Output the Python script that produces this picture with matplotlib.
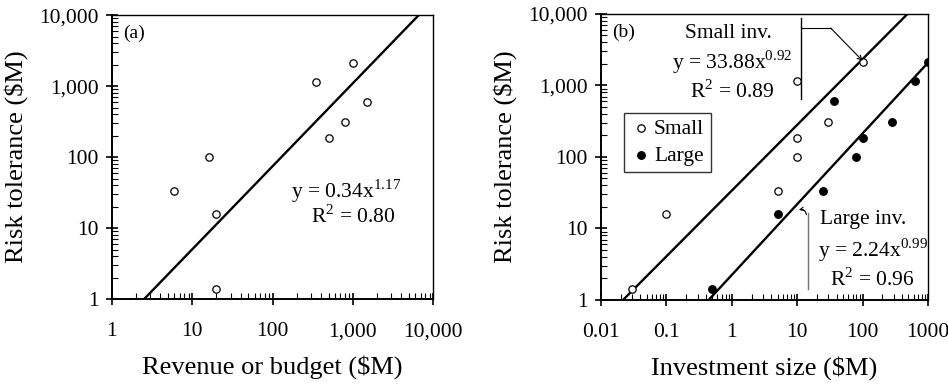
import numpy as np
import matplotlib.pyplot as plt
from matplotlib.ticker import FixedLocator, LogLocator, NullFormatter

plt.rcParams['font.family'] = ['Liberation Serif', 'DejaVu Serif']
plt.rcParams['mathtext.fontset'] = 'custom'
plt.rcParams['mathtext.rm'] = 'Liberation Serif'

# (a) revenue or budget vs risk tolerance
rev_x = [6, 16, 20, 20, 350, 500, 800, 1000, 1500]
rev_y = [33, 100, 16, 1.4, 1150, 185, 310, 2100, 600]
fit_a = (0.34, 1.17)

# (b) investment size vs risk tolerance
small_x = [0.03, 0.1, 5, 10, 10, 10, 30, 100]
small_y = [1.4, 16, 33, 100, 185, 1150, 310, 2100]
large_x = [0.5, 5, 25, 80, 100, 37, 280, 620, 1000]
large_y = [1.4, 16, 33, 100, 185, 600, 310, 1150, 2100]
fit_small = (33.88, 0.92)
fit_large = (2.24, 0.99)

fig = plt.figure(figsize=(9.48, 3.88), dpi=100)
ax1 = fig.add_axes([0.118, 0.229, 0.339, 0.732])
ax2 = fig.add_axes([0.634, 0.227, 0.345, 0.737])


def style(ax, xlim, xticks, xlabels):
    ax.set_xscale('log')
    ax.set_yscale('log')
    ax.set_xlim(*xlim)
    ax.set_ylim(1, 10000)
    ax.xaxis.set_major_locator(FixedLocator(xticks))
    ax.set_xticklabels(xlabels)
    ax.set_yticks([1, 10, 100, 1000, 10000])
    ax.set_yticklabels(['1', '10', '100', '1,000', '10,000'])
    ax.xaxis.set_minor_locator(LogLocator(base=10, subs=np.arange(2, 10), numticks=20))
    ax.yaxis.set_minor_locator(LogLocator(base=10, subs=np.arange(2, 10), numticks=20))
    ax.xaxis.set_minor_formatter(NullFormatter())
    ax.yaxis.set_minor_formatter(NullFormatter())
    ax.tick_params(which='major', direction='inout', length=9, width=1.2,
                   labelsize=15.5)
    ax.tick_params(axis='x', which='major', pad=12)
    ax.tick_params(axis='y', which='major', pad=5)
    ax.tick_params(which='minor', direction='in', length=4, width=0.8)
    ax.tick_params(top=False, right=False, which='both')
    for s in ['left', 'bottom']:
        ax.spines[s].set_linewidth(1.4)
    for s in ['top', 'right']:
        ax.spines[s].set_linewidth(1.0)
    ax.set_ylabel('Risk tolerance ($M)', fontsize=19, labelpad=8)


# ---- panel (a)
style(ax1, (1, 10000), [1, 10, 100, 1000, 10000],
      ['1', '10', '100', '1,000', '10,000'])
ax1.scatter(rev_x, rev_y, s=28, facecolors='white', edgecolors='black',
            linewidths=0.9, zorder=3)
a, b = fit_a
xa = np.array([(1 / a) ** (1 / b), (10000 / a) ** (1 / b)])
ax1.plot(xa, a * xa ** b, color='black', lw=1.7)
ax1.text(0.035, 0.965, '(a)', transform=ax1.transAxes, fontsize=14,
         va='top', ha='left')
ax1.text(0.73, 0.38, 'y = 0.34x$^{1.17}$', transform=ax1.transAxes,
         fontsize=15.5, ha='center', va='center')
ax1.text(0.75, 0.29, 'R$^2$ = 0.80', transform=ax1.transAxes,
         fontsize=15.5, ha='center', va='center')
ax1.set_xlabel('Revenue or budget ($M)', fontsize=19, labelpad=10)

# ---- panel (b)
style(ax2, (0.01, 1000), [0.01, 0.1, 1, 10, 100, 1000],
      ['0.01', '0.1', '1', '10', '100', '1000'])
ax2.scatter(small_x, small_y, s=28, facecolors='white', edgecolors='black',
            linewidths=0.9, zorder=3, label='Small')
ax2.scatter(large_x, large_y, s=30, facecolors='black', edgecolors='black',
            linewidths=0.9, zorder=3, label='Large')
a, b = fit_small
xs = np.array([(1 / a) ** (1 / b), (10000 / a) ** (1 / b)])
ax2.plot(xs, a * xs ** b, color='black', lw=1.7)
a, b = fit_large
xl = np.array([(1 / a) ** (1 / b), 1000])
ax2.plot(xl, a * xl ** b, color='black', lw=1.7)

ax2.text(0.035, 0.965, '(b)', transform=ax2.transAxes, fontsize=14,
         va='top', ha='left')
ax2.text(0.39, 0.93, 'Small inv.', transform=ax2.transAxes, fontsize=15.5,
         ha='center', va='center')
ax2.text(0.40, 0.83, 'y = 33.88x$^{0.92}$', transform=ax2.transAxes,
         fontsize=15.5, ha='center', va='center')
ax2.text(0.40, 0.73, 'R$^2$ = 0.89', transform=ax2.transAxes,
         fontsize=15.5, ha='center', va='center')
ax2.text(0.80, 0.28, 'Large inv.', transform=ax2.transAxes, fontsize=15.5,
         ha='center', va='center')
ax2.text(0.83, 0.175, 'y = 2.24x$^{0.99}$', transform=ax2.transAxes,
         fontsize=15.5, ha='center', va='center')
ax2.text(0.83, 0.07, 'R$^2$ = 0.96', transform=ax2.transAxes,
         fontsize=15.5, ha='center', va='center')

# bracket for small inv.
ax2.plot([0.610, 0.610], [0.986, 0.703], transform=ax2.transAxes,
         color='black', lw=1.0)
ax2.plot([0.610, 0.702], [0.951, 0.951], transform=ax2.transAxes,
         color='black', lw=0.8)
ax2.annotate('', xy=(0.80, 0.836), xytext=(0.702, 0.951),
             xycoords='axes fraction', textcoords='axes fraction',
             arrowprops=dict(arrowstyle='->', lw=0.8, color='black',
                             shrinkA=0, shrinkB=0, mutation_scale=8))
# bracket for large inv.
ax2.plot([0.632, 0.632], [0.304, 0.038], transform=ax2.transAxes,
         color='0.45', lw=1.0)
ax2.annotate('', xy=(0.605, 0.315), xytext=(0.628, 0.298),
             xycoords='axes fraction', textcoords='axes fraction',
             arrowprops=dict(arrowstyle='->', lw=0.8, color='black',
                             connectionstyle='arc3,rad=0.5',
                             shrinkA=0, shrinkB=0, mutation_scale=6))

leg = ax2.legend(loc='upper left', bbox_to_anchor=(0.07, 0.655), fontsize=15.5,
                 frameon=True, fancybox=False, edgecolor='black',
                 handletextpad=0.1, borderpad=0.3, labelspacing=0.3,
                 handlelength=1.0, borderaxespad=0)
leg.get_frame().set_linewidth(1.0)
ax2.set_xlabel('Investment size ($M)', fontsize=19, labelpad=10)

fig.savefig('out.png', dpi=100)
